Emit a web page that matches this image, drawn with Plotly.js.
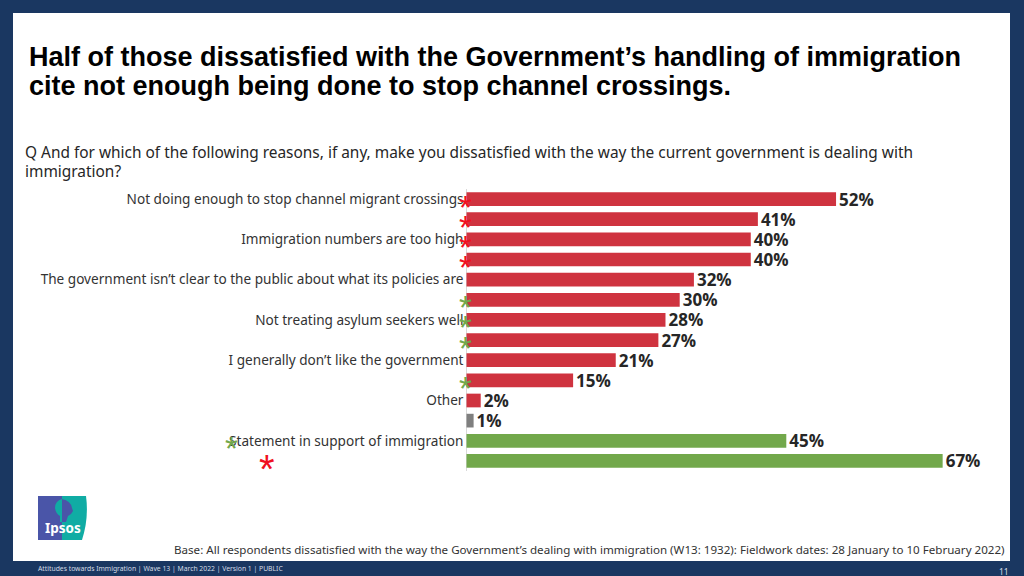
<!DOCTYPE html>
<html><head><meta charset="utf-8">
<script src="https://cdn.plot.ly/plotly-3.0.1.min.js"></script>
<style>html,body{margin:0;padding:0;background:#1a3761}</style></head>
<body><div id="chart" style="width:1024px;height:576px"></div>
<script>
const rowLabels = ["Not doing enough to stop channel migrant crossings","","Immigration numbers are too high","","The government isn\u2019t clear to the public about what its policies are","","Not treating asylum seekers well","","I generally don\u2019t like the government","","Other","","Statement in support of immigration",""];
const rowValues = [52,41,40,40,32,30,28,27,21,15,2,1,45,67];
const rowColors = ["#cf333f","#cf333f","#cf333f","#cf333f","#cf333f","#cf333f","#cf333f","#cf333f","#cf333f","#cf333f","#cf333f","#7f7f7f","#72a84b","#72a84b"];
const starRows = [0,1,2,3,5,6,7,9,12,13];
const starX = [-0.2,-0.2,-0.2,-0.2,-0.2,-0.2,-0.2,-0.2,-33,-28.1];
const starColors = ["#f01020","#f01020","#f01020","#f01020","#72a84b","#72a84b","#72a84b","#72a84b","#72a84b","#f01020"];
const titleLines = ["Half of those dissatisfied with the Government\u2019s handling of immigration","cite not enough being done to stop channel crossings."];
const questionLines = ["Q And for which of the following reasons, if any, make you dissatisfied with the way the current government is dealing with","immigration?"];
const baseText = "Base: All respondents dissatisfied with the way the Government\u2019s dealing with immigration (W13: 1932): Fieldwork dates: 28 January to 10 February 2022)";
const footerText = "Attitudes towards Immigration | Wave 13 | March 2022 | Version 1 | PUBLIC";
const pageNumber = "11";

const W=1024,H=576, NS='"Noto Sans","Open Sans",sans-serif', LS='"Liberation Sans",Arial,sans-serif';
const px=x=>x/W, py=y=>1-y/H;
const rows=rowValues.map((_,i)=>i);
const rect=(x0,y0,x1,y1,c,layer)=>({type:'rect',xref:'paper',yref:'paper',x0:px(x0),x1:px(x1),y0:py(y0),y1:py(y1),fillcolor:c,line:{width:0},layer:layer||'below'});
const txt=(x,y,t,size,color,anchor,fam)=>({xref:'paper',yref:'paper',x:px(x),y:py(y),text:t,showarrow:false,xanchor:anchor||'left',yanchor:'middle',align:'left',font:{family:fam||NS,size:size,color:color}});

const shapes=[
 rect(13,13,1010,561,'#ffffff'),
 rect(38,496,62,540,'#4a55a8','above'),
 {type:'path',xref:'paper',yref:'paper',layer:'above',fillcolor:'#10aca4',line:{width:0},
  path:`M ${px(62)},${py(496)} L ${px(86)},${py(496)} Q ${px(89)},${py(518)} ${px(82)},${py(540)} L ${px(62)},${py(540)} Z`},
 {type:'path',xref:'paper',yref:'paper',layer:'above',fillcolor:'#10aca4',line:{width:0},
  path:`M ${px(62)},${py(499)} Q ${px(55)},${py(501)} ${px(55)},${py(508)} Q ${px(56)},${py(514)} ${px(60)},${py(516)} L ${px(60)},${py(522)} L ${px(62)},${py(522)} Z`},
 {type:'path',xref:'paper',yref:'paper',layer:'above',fillcolor:'#4a55a8',line:{width:0},
  path:`M ${px(62)},${py(499)} Q ${px(71)},${py(501)} ${px(72)},${py(508)} L ${px(73)},${py(511)} L ${px(71)},${py(514)} L ${px(68)},${py(516)} L ${px(66)},${py(522)} L ${px(62)},${py(522)} Z`},
 {type:'line',xref:'x',yref:'paper',x0:0,x1:0,y0:py(471),y1:py(189),line:{color:'#d9d9d9',width:1},layer:'below'}
];

const annotations=[
 txt(27,57,'<b>'+titleLines[0]+'</b>',27,'#000000','left',LS),
 txt(27,86,'<b>'+titleLines[1]+'</b>',27,'#000000','left',LS),
 txt(23,152.5,questionLines[0],15.43,'#262626'),
 txt(23,171.5,questionLines[1],15.43,'#262626'),
 txt(1007,549.5,baseText,11.6,'#333333','right'),
 txt(36,568.5,footerText,6.8,'#d5dce6'),
 txt(1011,571,pageNumber,8.5,'#d5dce6','right'),
 txt(42.5,528,'<b>Ipsos</b>',13.5,'#ffffff')
];
starRows.forEach((r,i)=>{
  const big=r===13;
  annotations.push({xref:'x',yref:'y',x:starX[i],y:r,text:'*',showarrow:false,xanchor:'center',yanchor:'middle',yshift:-8,
    font:{family:LS,size:big?40:33,color:starColors[i]}});
});

const bars={type:'bar',orientation:'h',y:rows,x:rowValues,width:0.68,
  marker:{color:rowColors,line:{width:0}},
  text:rowValues.map(v=>v+'%'),textposition:'outside',cliponaxis:false,constraintext:'none',
  textfont:{family:'"Open Sans","Noto Sans",sans-serif',size:17,color:'#262626',weight:700},hoverinfo:'skip'};

const layout={width:W,height:H,margin:{l:0,r:0,t:0,b:0},paper_bgcolor:'#1a3761',plot_bgcolor:'rgba(0,0,0,0)',showlegend:false,
  xaxis:{domain:[px(20),px(999.5)],range:[-62.83,75],showgrid:false,zeroline:false,showticklabels:false,ticks:'',showline:false},
  yaxis:{domain:[py(471),py(189)],range:[13.5,-0.5],tickmode:'array',tickvals:rows,ticktext:rowLabels,showgrid:false,zeroline:false,
    showline:false,ticks:'',automargin:false,ticklabelstandoff:3,tickfont:{family:NS,size:13.6,color:'#333333'},anchor:'free',position:px(466.5)},
  shapes:shapes,annotations:annotations};
Plotly.newPlot('chart',[bars],layout,{staticPlot:true,displayModeBar:false});
</script></body></html>
